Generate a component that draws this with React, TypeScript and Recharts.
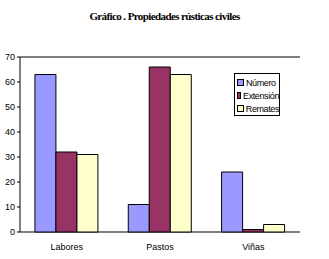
import React from "react";
import { BarChart, Bar, XAxis, YAxis, CartesianGrid } from "recharts";

const categories = ["Labores", "Pastos", "Viñas"];
const numero = [63, 11, 24];
const extension = [32, 66, 1];
const remates = [31, 63, 3];
const yTicks = [0, 10, 20, 30, 40, 50, 60, 70];
const seriesNames = ["Número", "Extensión", "Remates"];
const colors = ["#9999FF", "#993366", "#FFFFCC"];

const data = categories.map((c, i) => ({
  name: c,
  numero: numero[i],
  extension: extension[i],
  remates: remates[i],
  pos: i,
}));

const font = "'Liberation Sans', Arial, sans-serif";

export default function App() {
  return (
    <div style={{ position: "absolute", left: 0, top: 0, width: 329, height: 259, background: "#fff" }}>
      <div
        style={{
          position: "absolute",
          top: 10,
          left: 0,
          width: 329,
          textAlign: "center",
          fontFamily: "'Liberation Serif', 'Times New Roman', serif",
          fontWeight: "bold",
          fontSize: 11,
          letterSpacing: -0.6,
        }}
      >
        Gráfico . Propiedades rústicas civiles
      </div>
      <BarChart
        width={329}
        height={259}
        data={data}
        margin={{ top: 57, right: 29, bottom: 7, left: 0 }}
        barCategoryGap="16%"
        barGap={0}
      >
        <CartesianGrid horizontal vertical={false} stroke="#000" strokeWidth={1} />
        <XAxis
          xAxisId="ticks"
          type="number"
          dataKey="pos"
          domain={[0, 3]}
          ticks={[0, 1, 2, 3]}
          height={0}
          axisLine={{ stroke: "#000" }}
          tickLine={{ stroke: "#000" }}
          tickSize={4}
          tick={false}
        />
        <XAxis
          xAxisId="cat"
          dataKey="name"
          height={20}
          axisLine={false}
          tickLine={false}
          tick={{ fill: "#000", fontSize: 9, fontFamily: font }}
          tickMargin={6}
        />
        <YAxis
          yAxisId="left"
          domain={[0, 70]}
          ticks={yTicks}
          width={20}
          axisLine={{ stroke: "#000" }}
          tickLine={{ stroke: "#000" }}
          tickSize={3}
          tick={{ fill: "#000", fontSize: 9, fontFamily: font }}
          tickMargin={2}
        />
        <YAxis
          yAxisId="right"
          orientation="right"
          domain={[0, 70]}
          width={0}
          axisLine={{ stroke: "#000" }}
          tickLine={false}
          tick={false}
        />
        <Bar xAxisId="cat" yAxisId="left" dataKey="numero" fill={colors[0]} stroke="#000" strokeWidth={1} isAnimationActive={false} />
        <Bar xAxisId="cat" yAxisId="left" dataKey="extension" fill={colors[1]} stroke="#000" strokeWidth={1} isAnimationActive={false} />
        <Bar xAxisId="cat" yAxisId="left" dataKey="remates" fill={colors[2]} stroke="#000" strokeWidth={1} isAnimationActive={false} />
      </BarChart>
      <div
        style={{
          position: "absolute",
          left: 234,
          top: 73,
          width: 46,
          height: 43,
          border: "1px solid #000",
          background: "#fff",
          boxSizing: "border-box",
          padding: "2px 0 0 2px",
          fontFamily: font,
          fontSize: 9,
        }}
      >
        {seriesNames.map((n, i) => (
          <div key={n} style={{ display: "flex", alignItems: "center", height: 13, whiteSpace: "nowrap", letterSpacing: -0.4 }}>
            <span
              style={{
                display: "inline-block",
                width: 5,
                height: 5,
                background: colors[i],
                border: "1px solid #000",
                marginRight: 2,
              }}
            />
            {n}
          </div>
        ))}
      </div>
    </div>
  );
}
